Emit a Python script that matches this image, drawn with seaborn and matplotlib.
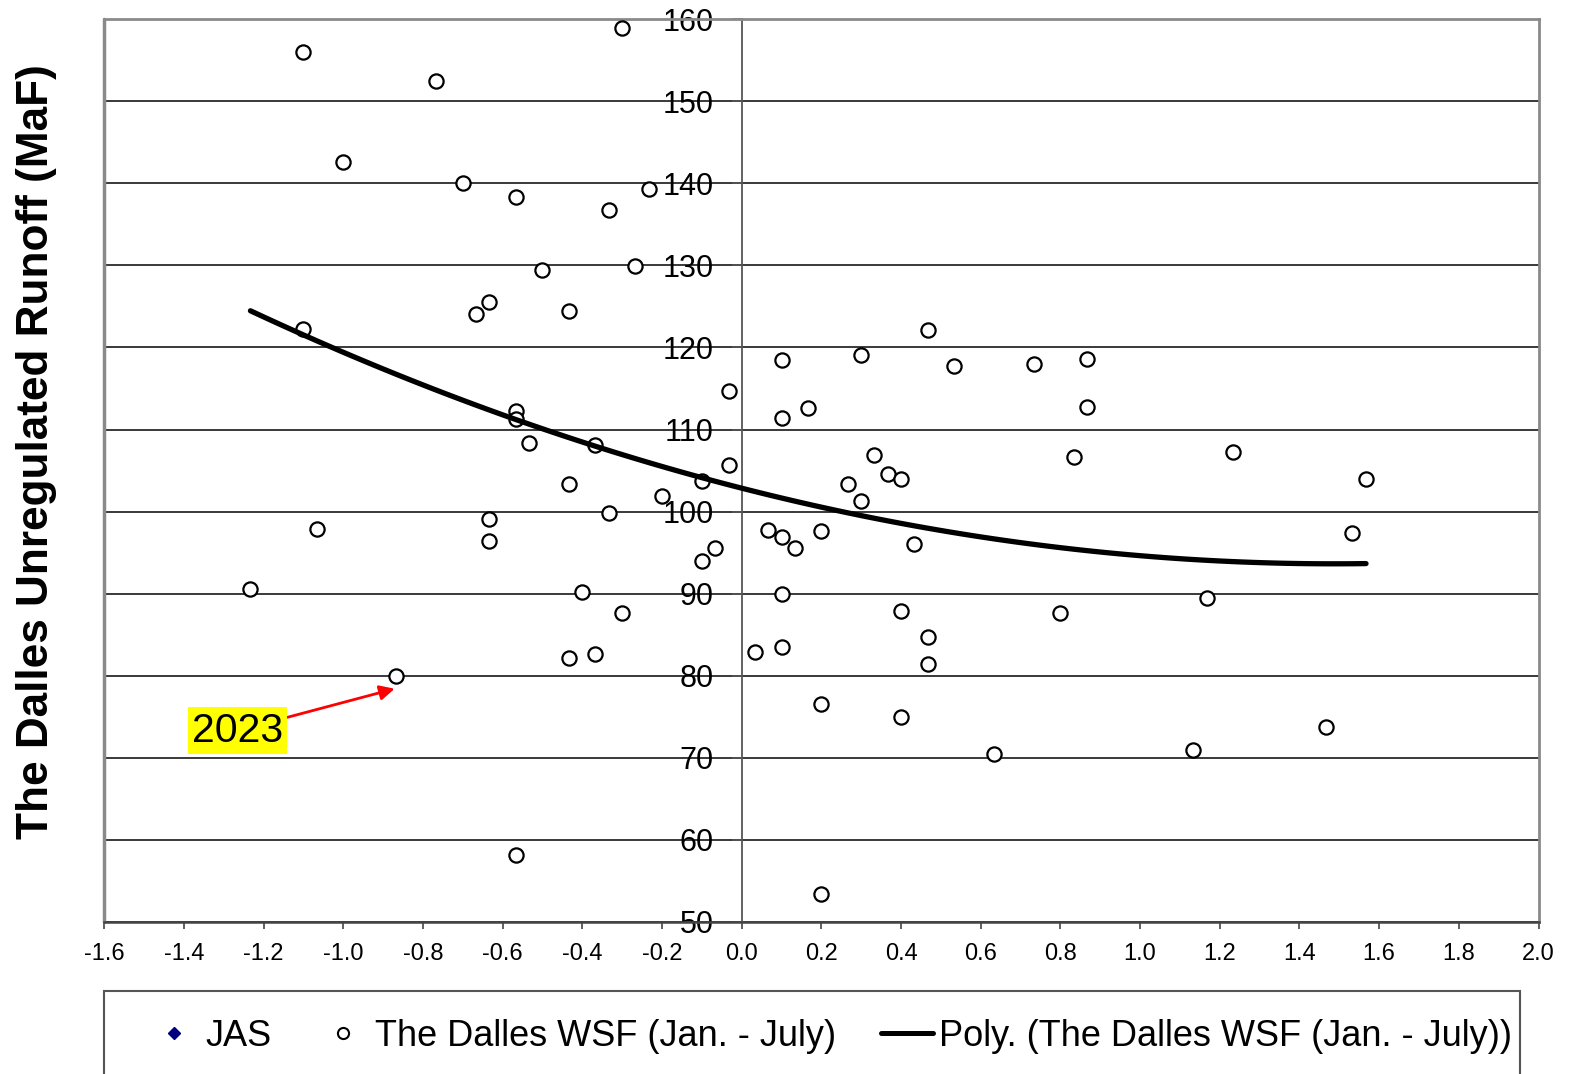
import numpy as np
import pandas as pd
import matplotlib
matplotlib.use("Agg")
from matplotlib import pyplot as plt
from matplotlib.lines import Line2D
from matplotlib.patches import Rectangle
import seaborn as sns

# JAS index (x) vs The Dalles WSF Jan-July runoff in MaF (y)
jas = [-1.100, -0.767, -0.300, -1.000, -0.700, -0.567, -0.333, -0.233, -0.500, -0.267,
       -0.633, -0.667, -0.433, -1.100, -0.033, -0.567, -0.567, -0.533, -0.367, -0.033,
       -0.433, -0.100, -0.200, -0.333, -1.067, -0.633, -0.633, -0.100, -0.067, -1.233,
       -0.400, -0.300, -0.433, -0.367, -0.867, -0.567,
       0.467, 0.100, 0.300, 0.533, 0.733, 0.867, 0.867, 0.100, 0.167, 0.333,
       0.833, 1.233, 0.367, 0.400, 0.267, 0.300, 1.567, 0.067, 0.100, 0.133,
       0.200, 0.433, 1.533, 0.100, 1.167, 0.400, 0.800, 0.467, 0.033, 0.100,
       0.467, 0.200, 0.400, 1.467, 0.633, 1.133, 0.200]
runoff = [156.0, 152.5, 158.9, 142.6, 140.0, 138.4, 136.7, 139.3, 129.4, 129.9,
          125.6, 124.1, 124.4, 122.2, 114.7, 112.3, 111.3, 108.3, 108.1, 105.7,
          103.4, 103.7, 101.9, 99.8, 97.9, 99.1, 96.4, 94.0, 95.5, 90.5,
          90.2, 87.6, 82.1, 82.6, 80.0, 58.1,
          122.1, 118.5, 119.1, 117.7, 118.0, 118.6, 112.8, 111.4, 112.6, 106.9,
          106.7, 107.2, 104.6, 104.0, 103.4, 101.3, 104.0, 97.8, 96.9, 95.6,
          97.6, 96.1, 97.4, 90.0, 89.5, 87.9, 87.6, 84.7, 82.9, 83.5,
          81.4, 76.5, 75.0, 73.7, 70.4, 70.9, 53.4]

x_ticks = [-1.6, -1.4, -1.2, -1.0, -0.8, -0.6, -0.4, -0.2, 0.0,
           0.2, 0.4, 0.6, 0.8, 1.0, 1.2, 1.4, 1.6, 1.8, 2.0]
y_ticks = [50, 60, 70, 80, 90, 100, 110, 120, 130, 140, 150, 160]

df = pd.DataFrame({"jas": jas, "runoff": runoff})

sns.set_style("white")
plt.rcParams["font.family"] = ["Liberation Sans", "DejaVu Sans"]
plt.rcParams["text.color"] = "black"
plt.rcParams["xtick.color"] = "black"
plt.rcParams["ytick.color"] = "black"

fig = plt.figure(figsize=(15.72, 10.74), dpi=100)
ax = fig.add_axes([0.0663, 0.1418, 0.9124, 0.8402])

# y axis sits at x = 0, outer frame stays grey
ax.spines["left"].set_position(("data", 0))

# horizontal grid
for yv in y_ticks:
    ax.axhline(yv, color="#2a2a2a", lw=1.3, zorder=0)

sns.scatterplot(data=df, x="jas", y="runoff", ax=ax, marker="o", s=105,
                facecolor="white", edgecolor="black", linewidth=1.6, zorder=3)

# 2nd order polynomial trend
sns.regplot(data=df, x="jas", y="runoff", ax=ax, order=2, ci=None, scatter=False,
            truncate=True, line_kws=dict(color="black", lw=3.8, zorder=4))

ax.set_xlim(-1.6, 2.0)
ax.set_ylim(50, 160)
ax.set_xticks(x_ticks)
ax.set_xticklabels([f"{v:.1f}" for v in x_ticks])
ax.set_yticks(y_ticks)
ax.set_yticklabels([str(v) for v in y_ticks])
ax.set_xlabel("")
ax.set_ylabel("")

ax.spines["left"].set_color("#555555")
ax.spines["left"].set_linewidth(1.3)
ax.spines["bottom"].set_color("#444444")
ax.spines["bottom"].set_linewidth(1.8)
for s in ["top", "right"]:
    ax.spines[s].set_color("#8a8a8a")
    ax.spines[s].set_linewidth(2)
ax.plot([0, 0], [0, 1], transform=ax.transAxes, color="#8a8a8a", lw=2.5, clip_on=False)

ax.tick_params(axis="y", direction="out", length=7, width=1.2, color="#555555",
               pad=13, labelsize=22, labelcolor="black", left=True)
ax.tick_params(axis="x", direction="out", length=5, width=1.2, color="#444444",
               pad=10, labelsize=17, labelcolor="black", bottom=True)

fig.text(0.0235, 1 - 452 / 1074, "The Dalles Unregulated Runoff (MaF)", rotation=90,
         fontsize=31.8, fontweight="bold", ha="center", va="center", color="black")

ax.annotate("2023", xy=(-0.871, 78.4), xytext=(-1.265, 73.3), fontsize=29.5,
            ha="center", va="center", color="black",
            bbox=dict(boxstyle="square,pad=0.1", fc="yellow", ec="none"),
            arrowprops=dict(arrowstyle="-|>", color="red", lw=2, mutation_scale=22,
                            shrinkA=0, shrinkB=0))

# legend box
fig.add_artist(Rectangle((104 / 1572, -0.01), (1520 - 104) / 1572, (1074 - 991) / 1074 + 0.01,
                         transform=fig.transFigure, fill=False, ec="#555555", lw=1.5))
handles = [
    Line2D([], [], marker="D", color="#000080", ls="none", markersize=6),
    Line2D([], [], marker="o", mfc="white", mec="black", ls="none", markersize=8, mew=1.5),
    Line2D([], [], color="black", lw=3.6),
]
labels = ["JAS", "The Dalles WSF (Jan. - July)", "Poly. (The Dalles WSF (Jan. - July))"]
fig.legend(handles, labels, loc="center left", bbox_to_anchor=(148 / 1572, 1 - 1036 / 1074),
           ncol=3, frameon=False, fontsize=26, handlelength=1.45, handletextpad=0.15,
           columnspacing=1.25, borderaxespad=0, borderpad=0, labelcolor="black")

fig.savefig("out.png", dpi=100)
